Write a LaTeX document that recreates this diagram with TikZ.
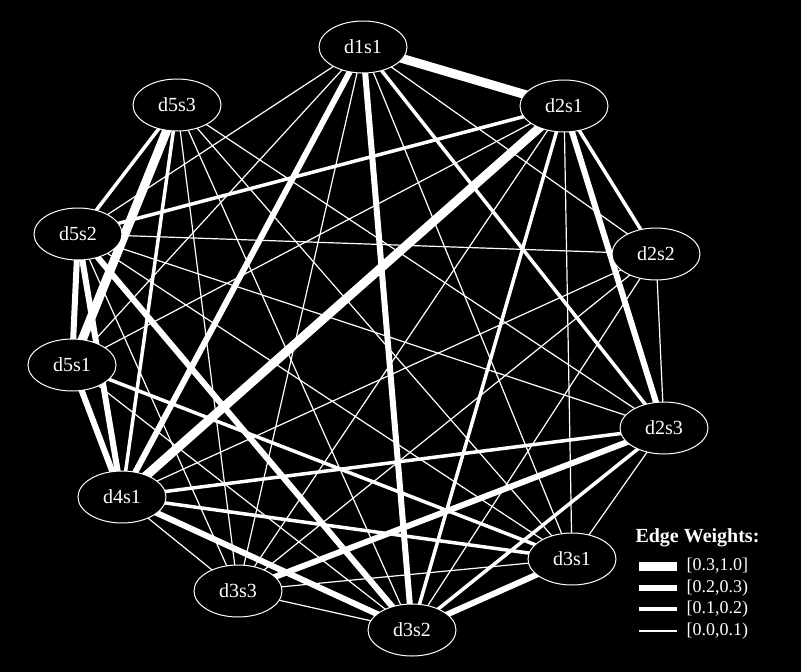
\documentclass[tikz,border=0pt]{standalone}
\usepackage{fontspec}
\setmainfont{Liberation Serif}
\usetikzlibrary{shapes.geometric}
\pgfdeclarelayer{canvas}
\pgfdeclarelayer{edges}
\pgfsetlayers{canvas,edges,main}
\begin{document}
\begin{tikzpicture}
		[x=1pt,y=-1pt,line cap=butt,
		%Styles
		vertex/.style={draw=white,line width=1pt,fill=black,ellipse,minimum width=88pt,minimum height=52pt,inner sep=0pt,text=white,font=\fontsize{20}{22}\selectfont},
		wA/.style={line width=9pt},
		wB/.style={line width=6pt},
		wC/.style={line width=3.5pt},
		wD/.style={line width=1.2pt},
		legend text/.style={text=white,anchor=west,font=\fontsize{18}{20}\selectfont}
		]
		\begin{pgfonlayer}{canvas}
			\fill[black] (0,0) rectangle (801,672);
		\end{pgfonlayer}
		\useasboundingbox (0,0) rectangle (801,672);
		
		%The vertices
		\foreach \name/\x/\y in {d1s1/363/47, d2s1/564/106, d2s2/656/254, d2s3/664/428,
			d3s1/572/559, d3s2/412/630, d3s3/238/591, d4s1/122/497,
			d5s1/72/365, d5s2/78/234, d5s3/177/105}
			\node[vertex] (\name) at (\x,\y) {\name};
		
		%The edges
		\begin{pgfonlayer}{edges}
			\foreach \a/\b/\w in {d1s1/d2s1/wA, d1s1/d2s2/wD, d1s1/d2s3/wC, d1s1/d3s1/wD,
				d1s1/d3s2/wB, d1s1/d3s3/wD, d1s1/d4s1/wB, d1s1/d5s1/wD, d1s1/d5s2/wD,
				d2s1/d5s2/wC, d2s1/d5s1/wD, d2s1/d4s1/wA, d2s1/d3s3/wD, d2s1/d3s2/wC,
				d2s1/d3s1/wD, d2s1/d2s3/wB, d2s1/d2s2/wC,
				d2s2/d2s3/wD, d2s2/d5s2/wD, d2s2/d4s1/wD, d2s2/d3s3/wD, d2s2/d3s2/wD,
				d2s3/d5s3/wD, d2s3/d5s2/wD, d2s3/d4s1/wC, d2s3/d3s3/wB, d2s3/d3s2/wC, d2s3/d3s1/wD,
				d3s1/d5s3/wD, d3s1/d5s2/wD, d3s1/d5s1/wC, d3s1/d4s1/wC, d3s1/d3s3/wD, d3s1/d3s2/wB,
				d3s2/d5s3/wD, d3s2/d5s2/wB, d3s2/d5s1/wD, d3s2/d4s1/wB, d3s2/d3s3/wD,
				d3s3/d5s3/wD, d3s3/d5s2/wD, d3s3/d4s1/wD,
				d4s1/d5s1/wB, d4s1/d5s2/wB, d4s1/d5s3/wC,
				d5s1/d5s2/wB, d5s1/d5s3/wA, d5s2/d5s3/wC}
				\draw[white,\w] (\a.center) -- (\b.center);
		\end{pgfonlayer}
		
		%Legend
		\node[text=white,anchor=west,font=\fontsize{20}{22}\selectfont\bfseries] (title) at (632,538) {Edge Weights:};
		\foreach \w/\t/\y in {wA/{[0.3,1.0]}/566, wB/{[0.2,0.3)}/588, wC/{[0.1,0.2)}/609, wD/{[0.0,0.1)}/631}{
			\coordinate (s-\y) at (639,\y);
			\coordinate (e-\y) at (677,\y);
			\draw[white,\w] (s-\y) -- (e-\y);
			\node[legend text] (l-\y) at (683,\y) {\t};
		}
	\end{tikzpicture}
\end{document}
